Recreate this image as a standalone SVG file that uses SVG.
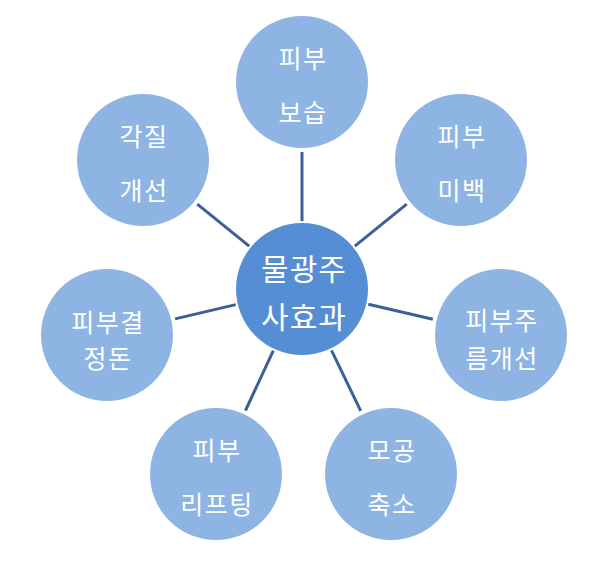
<svg xmlns="http://www.w3.org/2000/svg" width="596" height="570" viewBox="0 0 596 570">
<style>
.outer{fill:#8EB4E3;}
.center{fill:#558ED5;}
.lbl{font-family:"Noto Sans CJK KR","Noto Sans",sans-serif;font-size:25px;letter-spacing:1.5px;fill:#FFFFFF;text-anchor:middle;dominant-baseline:central;}
.clbl{font-family:"Noto Sans CJK KR","Noto Sans",sans-serif;font-size:30px;letter-spacing:1px;fill:#FFFFFF;text-anchor:middle;dominant-baseline:central;}
.conn line{stroke:#3E5F96;stroke-width:3;stroke-linecap:butt;}
</style>
<rect width="596" height="570" fill="#FFFFFF"/>
<g id="connectors" class="conn">
<line x1="302" y1="221" x2="302" y2="152"/>
<line x1="354.8" y1="246.2" x2="406.7" y2="204.1"/>
<line x1="368.3" y1="304.3" x2="432.8" y2="319.2"/>
<line x1="331.5" y1="350.3" x2="360.7" y2="410.9"/>
<line x1="273.3" y1="350.7" x2="245.5" y2="410.5"/>
<line x1="235.8" y1="304.6" x2="175.1" y2="318.9"/>
<line x1="249.2" y1="246.2" x2="197.3" y2="204.1"/>
</g>
<g id="center">
<circle class="center" cx="302" cy="289" r="66"/>
<text class="clbl" x="304" y="267">물광주</text>
<text class="clbl" x="304" y="315">사효과</text>
</g>
<g id="n-bosup">
<circle class="outer" cx="302" cy="82" r="66"/>
<text class="lbl" x="303" y="57">피부</text>
<text class="lbl" x="303" y="111">보습</text>
</g>
<g id="n-mibaek">
<circle class="outer" cx="461" cy="160" r="66"/>
<text class="lbl" x="462" y="135">피부</text>
<text class="lbl" x="462" y="189">미백</text>
</g>
<g id="n-jureum">
<circle class="outer" cx="501" cy="335" r="66"/>
<text class="lbl" x="502" y="319">피부주</text>
<text class="lbl" x="502" y="357">름개선</text>
</g>
<g id="n-mogong">
<circle class="outer" cx="391" cy="474" r="66"/>
<text class="lbl" x="392" y="449">모공</text>
<text class="lbl" x="392" y="503">축소</text>
</g>
<g id="n-lifting">
<circle class="outer" cx="216" cy="474" r="66"/>
<text class="lbl" x="217" y="449">피부</text>
<text class="lbl" x="217" y="503">리프팅</text>
</g>
<g id="n-gyeol">
<circle class="outer" cx="107" cy="335" r="66"/>
<text class="lbl" x="108" y="321">피부결</text>
<text class="lbl" x="108" y="357">정돈</text>
</g>
<g id="n-gakjil">
<circle class="outer" cx="143" cy="160" r="66"/>
<text class="lbl" x="144" y="135">각질</text>
<text class="lbl" x="144" y="189">개선</text>
</g>
</svg>
